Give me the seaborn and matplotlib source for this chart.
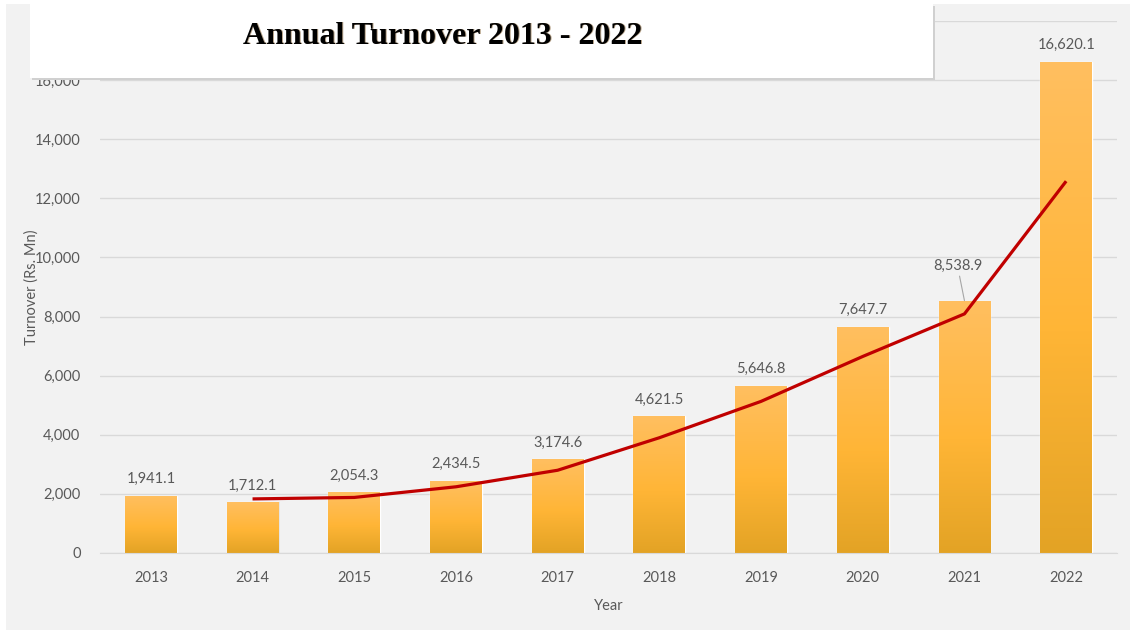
import numpy as np
import pandas as pd
import matplotlib.pyplot as plt
import seaborn as sns
from matplotlib.patches import Rectangle
from matplotlib.colors import LinearSegmentedColormap

# chart data
years = ["2013", "2014", "2015", "2016", "2017", "2018", "2019", "2020", "2021", "2022"]
turnover = [1941.1, 1712.1, 2054.3, 2434.5, 3174.6, 4621.5, 5646.8, 7647.7, 8538.9, 16620.1]
# red trend line (starts at 2014)
trend_years = ["2014", "2015", "2016", "2017", "2018", "2019", "2020", "2021", "2022"]
trend_vals = [1830, 1880, 2240, 2800, 3900, 5130, 6650, 8090, 12580]
yticks = [0, 2000, 4000, 6000, 8000, 10000, 12000, 14000, 16000]

df = pd.DataFrame({"Year": years, "Turnover": turnover})

sns.set_style("white")
plt.rcParams["font.family"] = ["Lato", "DejaVu Sans"]
txt_col = "#595959"

fig = plt.figure(figsize=(11.3, 6.33), dpi=100, facecolor="white")
# grey chart area
fig.patches.append(Rectangle((6 / 1130, 3 / 633), 1124 / 1130, 626 / 633,
                             transform=fig.transFigure, facecolor="#f2f2f2",
                             edgecolor="none", zorder=-10))
ax = fig.add_axes([100 / 1130, 80 / 633, 1017 / 1130, 532 / 633])
ax.set_facecolor("none")

sns.barplot(data=df, x="Year", y="Turnover", color="#ffb53b", width=0.51,
            saturation=1, ax=ax, zorder=2)
ax.set_ylim(0, 18000)
ax.set_xlim(-0.5, 9.5)

# vertical gradient fill for each bar
cmap = LinearSegmentedColormap.from_list(
    "bar", [(0, "#e3a325"), (0.45, "#ffb536"), (1, "#ffbf60")])
grad = np.linspace(0, 1, 256).reshape(-1, 1)
for p in ax.patches:
    x0, y0 = p.get_x(), p.get_y()
    w, h = p.get_width(), p.get_height()
    # faint shadow
    ax.add_patch(Rectangle((x0 + 0.01, y0), w, h, facecolor="#000000",
                           alpha=0.08, edgecolor="none", zorder=1.5))
    im = ax.imshow(grad, extent=[x0, x0 + w, y0, y0 + h], origin="lower",
                   cmap=cmap, aspect="auto", zorder=2.5)
    im.set_clip_path(p)
    p.set_facecolor("none")
ax.set_xlim(-0.5, 9.5)
ax.set_ylim(0, 18000)

ax.plot(trend_years, trend_vals, color="#c00000", lw=2.3, zorder=4,
        solid_capstyle="butt")

# data labels
for i, v in enumerate(turnover):
    lab = f"{v:,.1f}"
    if years[i] == "2021":
        ax.annotate(lab, xy=(i, v), xytext=(-5, 20), textcoords="offset points",
                    ha="center", va="bottom", fontsize=10.5, color=txt_col,
                    arrowprops=dict(arrowstyle="-", color="#a6a6a6", lw=0.8,
                                    shrinkA=0, shrinkB=0))
    else:
        ax.annotate(lab, xy=(i, v), xytext=(0, 7), textcoords="offset points",
                    ha="center", va="bottom", fontsize=10.5, color=txt_col)

ax.set_yticks(yticks + [18000])
ax.set_yticklabels([f"{t:,}" for t in yticks] + [""])
ax.yaxis.grid(True, color="#d9d9d9", lw=1)
ax.set_axisbelow(True)
for s in ["top", "right", "left"]:
    ax.spines[s].set_visible(False)
ax.spines["bottom"].set_color("#d9d9d9")
ax.tick_params(axis="both", length=0, labelsize=10.5, labelcolor=txt_col)
ax.tick_params(axis="x", pad=13)
ax.tick_params(axis="y", pad=14)
ax.set_xlabel("Year", fontsize=10.5, color=txt_col, labelpad=10)
ax.set_ylabel("Turnover (Rs. Mn)", fontsize=10.5, color=txt_col, labelpad=-3)

# white title box on top of the plot
fig.patches.append(Rectangle((32 / 1130, (633 - 80) / 633), 903 / 1130, 74 / 633,
                             transform=fig.transFigure, facecolor="#d0d0d0",
                             edgecolor="none", zorder=5))
fig.patches.append(Rectangle((30 / 1130, (633 - 78) / 633), 903 / 1130, 74 / 633,
                             transform=fig.transFigure, facecolor="white",
                             edgecolor="none", zorder=6))
fig.text(444 / 1130, 1 - 37 / 633, "Annual Turnover 2013 - 2022",
         family=["Liberation Serif", "DejaVu Serif"], fontweight="bold",
         fontsize=23, ha="center", va="center", color="#8a6a40", alpha=0.6,
         zorder=7)
fig.text(443 / 1130, 1 - 36 / 633, "Annual Turnover 2013 - 2022",
         family=["Liberation Serif", "DejaVu Serif"], fontweight="bold",
         fontsize=23, ha="center", va="center", color="black", zorder=8)

fig.savefig("out.png", dpi=100, facecolor=fig.get_facecolor())
